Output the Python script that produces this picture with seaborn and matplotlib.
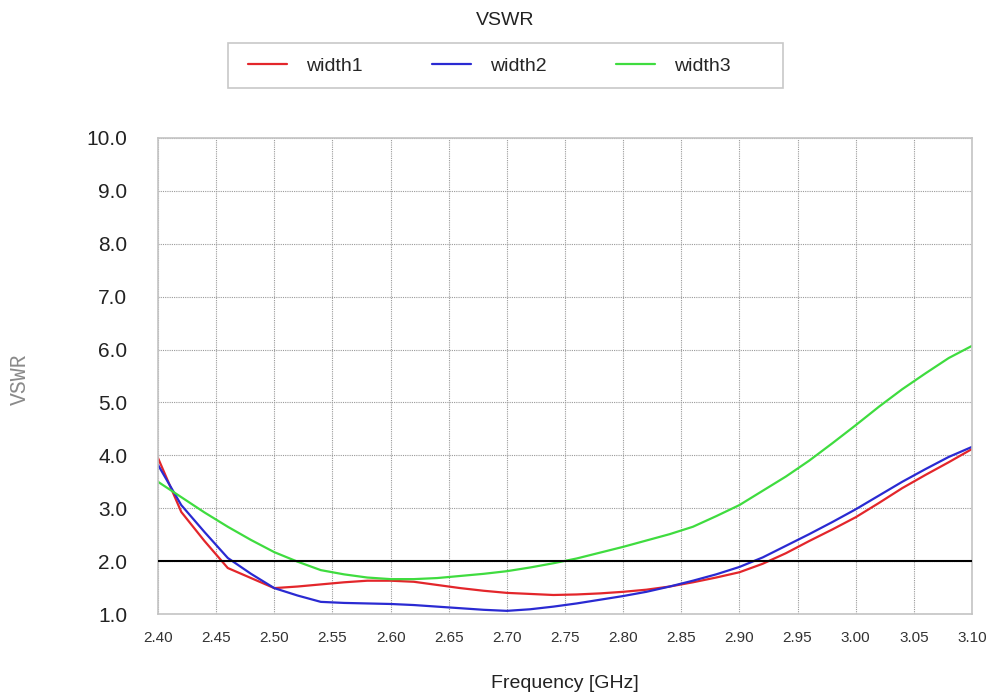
import numpy as np
import pandas as pd
import matplotlib
matplotlib.use("Agg")
import matplotlib.pyplot as plt
import seaborn as sns
from matplotlib.patches import Rectangle
from matplotlib.ticker import FormatStrFormatter, MultipleLocator

# Frequency sweep (GHz)
freq = [2.40, 2.42, 2.44, 2.46, 2.48, 2.50, 2.52, 2.54, 2.56, 2.58, 2.60, 2.62,
        2.64, 2.66, 2.68, 2.70, 2.72, 2.74, 2.76, 2.78, 2.80, 2.82, 2.84, 2.86,
        2.88, 2.90, 2.92, 2.94, 2.96, 2.98, 3.00, 3.02, 3.04, 3.06, 3.08, 3.10]

width1 = [3.95, 2.93, 2.38, 1.87, 1.68, 1.49, 1.52, 1.56, 1.60, 1.63, 1.63, 1.61,
          1.55, 1.49, 1.44, 1.40, 1.38, 1.36, 1.37, 1.39, 1.42, 1.46, 1.52, 1.60,
          1.69, 1.79, 1.95, 2.15, 2.38, 2.60, 2.83, 3.10, 3.38, 3.63, 3.87, 4.12]

width2 = [3.82, 3.06, 2.55, 2.06, 1.76, 1.49, 1.35, 1.23, 1.21, 1.20, 1.19, 1.17,
          1.14, 1.11, 1.08, 1.06, 1.09, 1.14, 1.20, 1.27, 1.34, 1.42, 1.52, 1.63,
          1.75, 1.89, 2.07, 2.29, 2.51, 2.74, 2.98, 3.24, 3.50, 3.74, 3.97, 4.16]

width3 = [3.50, 3.21, 2.92, 2.65, 2.40, 2.17, 1.99, 1.83, 1.75, 1.69, 1.66, 1.66,
          1.68, 1.72, 1.76, 1.81, 1.88, 1.96, 2.05, 2.16, 2.27, 2.39, 2.51, 2.65,
          2.85, 3.06, 3.33, 3.60, 3.90, 4.23, 4.57, 4.92, 5.25, 5.55, 5.84, 6.07]

series_names = ["width1", "width2", "width3"]
colors = ["#e3262b", "#2a2ad2", "#3fdc3f"]
threshold = 2.0

df = pd.DataFrame({
    "freq": freq * 3,
    "vswr": width1 + width2 + width3,
    "series": [n for n in series_names for _ in freq],
})

sns.set_style("white")
plt.rcParams["font.family"] = ["Liberation Sans", "DejaVu Sans"]
plt.rcParams["font.monospace"] = ["Liberation Mono", "DejaVu Sans Mono"]

fig = plt.figure(figsize=(9.9, 6.98), dpi=100)
ax = fig.add_axes([0.1596, 0.1203, 0.8222, 0.682])

sns.lineplot(data=df, x="freq", y="vswr", hue="series", hue_order=series_names,
             palette=colors, linewidth=1.6, ax=ax, legend=False, sort=False)
ax.axhline(threshold, color="black", linewidth=1.5, zorder=3)

ax.set_xlim(2.40, 3.10)
ax.set_ylim(1.0, 10.0)
ax.xaxis.set_major_locator(MultipleLocator(0.05))
ax.yaxis.set_major_locator(MultipleLocator(1.0))
ax.xaxis.set_major_formatter(FormatStrFormatter("%.2f"))
ax.yaxis.set_major_formatter(FormatStrFormatter("%.1f"))
ax.tick_params(axis="x", length=0, pad=12, labelsize=11, colors="#333333")
ax.tick_params(axis="y", length=0, pad=22, labelsize=15, colors="#222222")

ax.grid(True, color="#9a9a9a", linestyle=(0, (1, 1)), linewidth=0.8)
for s in ax.spines.values():
    s.set_color("#c4c4c4")
    s.set_linewidth(1.2)

ax.set_xlabel("Frequency [GHz]", fontsize=14, color="#222222", va="center")
ax.xaxis.set_label_coords(0.5, -0.145)
ax.set_ylabel("VSWR", fontsize=15.5, fontfamily="monospace", color="#8a8a8a",
              va="center")
ax.yaxis.set_label_coords(-0.1695, 0.494)

fig.text(0.510, 0.971, "VSWR", ha="center", va="center", fontsize=14, color="#222222")

# Legend box with roomy right margin, entries laid out in one row
fig.patches.append(Rectangle((0.2303, 0.8739), 0.5606, 0.0645,
                             transform=fig.transFigure, facecolor="white",
                             edgecolor="#c8c8c8", linewidth=1.2, zorder=0))
handles = [plt.Line2D([], [], color=c, linewidth=1.6) for c in colors]
leg = fig.legend(handles, series_names, loc="center left",
                 bbox_to_anchor=(0.2505, 0.9054), ncol=3, frameon=False,
                 fontsize=14, handlelength=2.0, handletextpad=1.0,
                 columnspacing=3.55, borderpad=0, borderaxespad=0)

fig.savefig("out.png", dpi=100)
